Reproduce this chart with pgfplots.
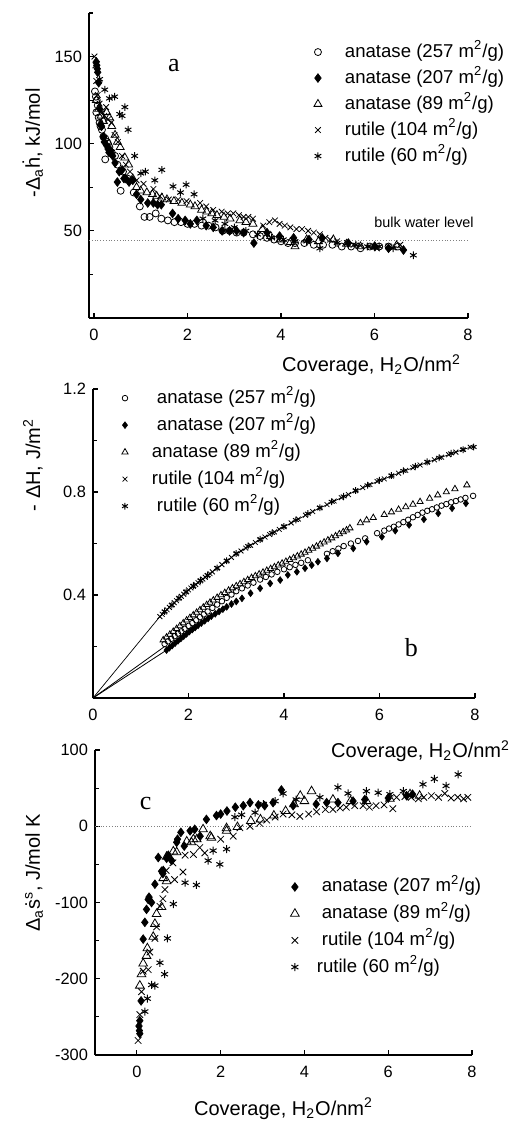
\documentclass[border=0pt]{standalone}
\usepackage{fontspec}
\setmainfont{Liberation Sans}
\newfontfamily\serif{Liberation Serif}
\usepackage{pgfplots}
\pgfplotsset{compat=1.18}

\pgfplotsset{
  panel/.style={
    scale only axis, axis lines*=left, clip=false,
    tick align=inside, major tick length=2.5pt, minor tick length=1.8pt,
    tick style={black, line width=0.6pt},
    axis line style={black, line width=0.6pt},
    /pgf/number format/assume math mode=true,
    xticklabel={\pgfmathprintnumber{\tick}},
    yticklabel={\pgfmathprintnumber{\tick}},
    tick label style={font=\fontsize{8.2}{10}\selectfont},
    xticklabel style={yshift=-2pt},
    label style={font=\fontsize{11.7}{14}\selectfont},
    legend cell align=left,
    legend style={draw=none, fill=none, inner sep=0pt, outer sep=0pt,
      font=\fontsize{9.3}{11}\selectfont,
      nodes={text height=7pt, text depth=2pt, inner ysep=1pt, inner xsep=1pt}},
  },
  legimg/.style 2 args={legend image code/.code={\path[draw=none,fill=none] (0pt,-2pt) rectangle (#2,2pt); \draw[##1] plot coordinates {(#1,0pt)};}},
  sCirc/.style={only marks, mark=o, mark options={line width=0.4pt}},
  sDiam/.style={only marks, mark=diamond*, mark options={line width=0.3pt, fill=black}},
  sTri/.style={only marks, mark=triangle, mark options={line width=0.4pt}},
  sX/.style={only marks, mark=x, mark options={line width=0.4pt}},
  sAst/.style={only marks, mark=asterisk, mark options={line width=0.5pt}},
}

\begin{document}
\begin{tikzpicture}
\useasboundingbox (0,0) rectangle (259.5pt,-561.5pt);

% ---- panel a
\begin{axis}[panel, at={(44.5pt,-159pt)}, anchor=south west,
  width=189.5pt, height=152.5pt,
  xmin=-0.107, xmax=8, ymin=0, ymax=175,
  xtick={0,2,4,6,8}, ytick={50,100,150}, minor ytick={25,75,125,175},
  xlabel={Coverage, H\textsubscript{2}O/nm\textsuperscript{2}},
  ylabel={-Δ\textsubscript{a}\.{h}, kJ/mol},
  every axis x label/.style={at={(axis description cs:1,-0.177)}, anchor=base east},
  every axis y label/.style={at={(axis description cs:-0.1293,0.574)}, rotate=90, anchor=base},
  legend style={at={(0.583,0.908)}, anchor=north west, row sep=2pt},
  legimg={4pt}{16.5pt},
]
\addplot[sCirc, mark size=1.75pt] coordinates {
(0.02,130)(0.04,127)(0.06,125)(0.08,122)(0.05,118)(0.10,115)(0.12,112)(0.14,110)
(0.17,108)(0.20,104)(0.24,103)(0.28,101)(0.30,100)(0.33,98)(0.24,91)(0.38,95)
(0.45,93)(0.50,88)(0.57,73)(0.62,84)(0.72,80)(0.85,72)(0.98,64)(1.08,58)(1.19,58)
(1.32,60)(1.44,57)(1.58,56)(1.72,55)(1.86,55)(2.00,54)(2.15,54)(2.30,53)(2.45,53)
(2.60,52)(2.75,50)(2.90,50)(3.05,49)(3.20,49)(3.40,48)(3.55,47)(3.70,46)(3.85,45)
(4.00,44)(4.15,43)(4.30,43)(4.50,43)(4.70,42)(4.90,42)(5.10,42)(5.30,41)(5.50,41)
(5.70,40)(5.90,41)(6.10,41)(6.30,41)(6.50,41)};
\addlegendentry{anatase (257 m\textsuperscript{2}/g)}
\addplot[sDiam, mark size=2.2pt] coordinates {
(0.05,147)(0.06,145)(0.07,143)(0.08,141)(0.10,135)(0.12,120)(0.14,111)(0.16,110)
(0.20,104)(0.22,101)(0.27,99)(0.30,97)(0.32,95)(0.36,96)(0.40,93)(0.45,89)(0.50,78)
(0.54,84)(0.60,85)(0.64,80)(0.68,80)(0.75,78)(0.83,79)(0.91,71)(1.00,68)(1.15,66)
(1.27,66)(1.36,65)(1.44,65)(1.68,60)(1.80,57)(1.95,56)(2.06,54)(2.20,56)(2.40,53)
(2.55,52)(2.74,50)(2.90,50)(3.05,50)(3.20,49)(3.42,43)(3.70,49)(3.97,47)(4.27,46)
(4.60,45)(4.88,46)(5.44,43)(6.01,41)(6.30,40)(6.62,39)};
\addlegendentry{anatase (207 m\textsuperscript{2}/g)}
\addplot[sTri, mark size=2.3pt] coordinates {
(0.05,125)(0.10,120)(0.15,116)(0.20,113)(0.27,118)(0.33,115)(0.38,110)(0.45,105)
(0.50,101)(0.56,98)(0.66,92)(0.74,88)(0.83,80)(0.91,75)(1.00,73)(1.13,72)(1.25,71)
(1.34,70)(1.45,69)(1.56,68)(1.71,67)(1.88,66)(2.06,65)(2.16,64)(2.30,62)(2.41,61)
(2.52,60)(2.63,59)(2.78,58)(2.91,57)(3.12,56)(3.25,55)(3.40,54)(3.60,51)(3.78,47)
(3.98,45)(4.20,43.5)(4.30,41)(4.55,45)(4.80,44)(5.12,45)(5.40,42.5)(5.70,41)
(6.00,41)(6.47,41.6)};
\addlegendentry{anatase (89 m\textsuperscript{2}/g)}
\addplot[sX, mark size=2pt] coordinates {
(0.01,150)(0.03,145)(0.05,136)(0.08,128)(0.12,123)(0.18,118)(0.22,116)(0.26,121)
(0.30,114)(0.37,112)(0.44,105)(0.51,101)(0.60,93)(0.68,88)(0.77,84)(0.91,79)
(1.06,77)(1.27,74)(1.41,70)(1.60,68)(1.80,68)(1.98,67)(2.27,66)(2.40,64)(2.55,62)
(2.73,61)(2.86,60)(2.98,60)(3.10,59)(3.20,58)(3.30,58)(3.40,57)(3.62,53)(3.75,55)
(3.87,56)(3.97,54)(4.08,53)(4.20,52)(4.33,51)(4.45,51)(4.58,50)(4.70,49)(4.83,48)
(4.95,46)(5.05,45)(5.20,44)(5.41,43)(5.55,42)(5.70,41.5)(5.90,41)(6.05,40)
(6.30,41)(6.55,42)};
\addlegendentry{rutile (104 m\textsuperscript{2}/g)}
\addplot[sAst, mark size=1.9pt] coordinates {
(0.12,137)(0.23,131)(0.33,126)(0.44,127)(0.55,117)(0.66,121)(0.60,116)(0.73,108)
(0.87,93)(1.00,83)(1.10,84)(1.30,79)(1.45,85)(1.69,75.5)(1.85,72)(1.97,76.5)
(2.14,71)(2.33,57)(2.59,56)(2.80,54)(3.00,52)(3.25,50)(3.50,48)(3.80,46)(4.05,45)
(4.30,44)(4.55,44)(4.83,40)(5.20,43)(5.60,42)(5.85,41)(6.10,41)(6.40,40)(6.83,36)};
\addlegendentry{rutile (60 m\textsuperscript{2}/g)}
\addplot[forget plot, densely dotted, line width=0.4pt, gray] coordinates {(-0.107,44.3)(8,44.3)};
\node[font=\fontsize{7.2}{9}\selectfont, anchor=base] at (axis cs:7.06,51.7) {bulk water level};
\node[font=\serif\fontsize{13}{15}\selectfont, anchor=base] at (axis cs:1.71,141.4) {a};
\end{axis}

% ---- panel b
\begin{axis}[panel, at={(46.5pt,-349pt)}, anchor=south west,
  width=191pt, height=154.5pt,
  xmin=0, xmax=8, ymin=0, ymax=1.2,
  xtick={0,2,4,6,8}, ytick={0.4,0.8,1.2}, minor ytick={0.2,0.6,1.0},
  yticklabel style={/pgf/number format/fixed, /pgf/number format/precision=1,
    /pgf/number format/fixed zerofill},
  xlabel={Coverage, H\textsubscript{2}O/nm\textsuperscript{2}},
  ylabel={- ΔH, J/m\textsuperscript{2}},
  every axis x label/.style={at={(axis description cs:1.11,-0.194)}, anchor=base east},
  every axis y label/.style={at={(axis description cs:-0.1387,0.754)}, rotate=90, anchor=base},
  legend style={at={(0.0628,1.006)}, anchor=north west, row sep=2.5pt},
  legimg={4pt}{16.5pt},
]
\addplot[forget plot, line width=0.4pt] coordinates {(0,0)(1.50,0.200)};
\addplot[forget plot, line width=0.4pt] coordinates {(0,0)(1.54,0.186)};
\addplot[forget plot, line width=0.35pt] coordinates {
(0,0)(1.40,0.316)(1.70,0.370)(2.00,0.420)(2.50,0.490)(3.00,0.560)(3.50,0.615)
(4.00,0.665)(4.60,0.724)(5.20,0.778)(5.80,0.829)(6.40,0.873)(7.00,0.915)(7.60,0.955)(7.90,0.974)};
\addplot[sCirc, mark size=1.4pt] coordinates {
(1.50,0.210)(1.57,0.220)(1.64,0.230)(1.71,0.240)(1.78,0.250)(1.85,0.259)(1.92,0.269)
(2.00,0.280)(2.08,0.291)(2.16,0.302)(2.24,0.314)(2.32,0.325)(2.40,0.336)(2.50,0.350)
(2.60,0.363)(2.70,0.376)(2.80,0.389)(2.90,0.402)(3.00,0.415)(3.12,0.426)(3.24,0.437)
(3.36,0.448)(3.50,0.460)(3.62,0.470)(3.74,0.480)(3.86,0.490)(4.00,0.500)(4.12,0.508)
(4.24,0.517)(4.36,0.525)(4.50,0.535)(4.90,0.560)(5.02,0.570)(5.14,0.580)(5.25,0.590)
(5.40,0.600)(5.55,0.610)(5.70,0.620)(5.95,0.640)(6.10,0.650)(6.20,0.658)(6.30,0.665)
(6.40,0.674)(6.50,0.683)(6.60,0.692)(6.70,0.702)(6.80,0.711)(6.90,0.720)(7.00,0.727)
(7.10,0.733)(7.20,0.740)(7.30,0.747)(7.40,0.753)(7.50,0.760)(7.60,0.765)(7.70,0.771)
(7.80,0.777)(7.96,0.785)};
\addlegendentry{\hspace{2.5pt}anatase (257 m\textsuperscript{2}/g)}
\addplot[sDiam, mark size=1.7pt] coordinates {
(1.54,0.186)(1.60,0.195)(1.66,0.204)(1.72,0.213)(1.78,0.222)(1.84,0.231)(1.90,0.240)
(1.96,0.249)(2.02,0.258)(2.08,0.266)(2.14,0.274)(2.20,0.282)(2.27,0.291)(2.34,0.300)
(2.41,0.309)(2.48,0.318)(2.56,0.327)(2.64,0.336)(2.72,0.345)(2.80,0.354)(2.90,0.365)
(3.00,0.375)(3.12,0.387)(3.30,0.407)(3.50,0.426)(3.71,0.445)(3.92,0.458)(4.08,0.478)
(4.27,0.490)(4.44,0.504)(4.58,0.516)(4.71,0.529)(4.90,0.542)(5.13,0.562)(5.45,0.581)
(5.73,0.607)(6.05,0.626)(6.33,0.650)(6.62,0.672)(6.93,0.694)(7.23,0.717)(7.52,0.737)
(7.81,0.756)};
\addlegendentry{\hspace{2.5pt}anatase (207 m\textsuperscript{2}/g)}
\addplot[sTri, mark size=1.8pt] coordinates {
(1.47,0.225)(1.54,0.236)(1.61,0.247)(1.68,0.258)(1.75,0.269)(1.82,0.280)(1.89,0.291)
(1.96,0.302)(2.03,0.312)(2.10,0.322)(2.17,0.332)(2.24,0.342)(2.31,0.352)(2.38,0.362)
(2.45,0.371)(2.52,0.380)(2.60,0.390)(2.68,0.400)(2.76,0.409)(2.84,0.418)(2.92,0.427)
(3.00,0.435)(3.08,0.443)(3.16,0.451)(3.24,0.459)(3.32,0.467)(3.40,0.474)(3.48,0.481)
(3.56,0.488)(3.64,0.495)(3.72,0.502)(3.80,0.509)(3.88,0.516)(3.96,0.523)(4.04,0.530)
(4.12,0.537)(4.20,0.544)(4.28,0.551)(4.36,0.558)(4.44,0.565)(4.52,0.573)(4.60,0.581)
(4.68,0.589)(4.76,0.597)(4.84,0.605)(4.92,0.613)(5.00,0.621)(5.08,0.629)(5.16,0.637)
(5.24,0.645)(5.31,0.652)(5.38,0.660)(5.60,0.680)(5.73,0.691)(5.87,0.700)(6.10,0.712)
(6.25,0.722)(6.40,0.732)(6.55,0.742)(6.70,0.752)(6.85,0.762)(7.05,0.775)(7.22,0.788)
(7.40,0.800)(7.58,0.812)(7.83,0.827)};
\addlegendentry{anatase (89 m\textsuperscript{2}/g)}
\addplot[sX, mark size=1.7pt] coordinates {
(1.40,0.316)(1.45,0.325)(1.50,0.334)(1.55,0.343)(1.60,0.352)(1.65,0.361)(1.70,0.370)
(1.75,0.378)(1.80,0.387)(1.85,0.395)(1.90,0.403)(1.95,0.412)(2.00,0.420)(2.05,0.427)
(2.10,0.434)(2.15,0.441)(2.20,0.448)(2.25,0.455)(2.30,0.462)(2.35,0.469)(2.40,0.476)
(2.45,0.483)(2.50,0.490)(2.60,0.504)(2.70,0.518)(2.80,0.532)(2.90,0.546)(3.00,0.560)
(3.10,0.571)(3.20,0.582)(3.30,0.593)(3.40,0.604)(3.50,0.615)(3.60,0.625)(3.70,0.635)
(3.80,0.645)(3.90,0.655)(4.00,0.665)(4.15,0.680)(4.30,0.695)(4.45,0.710)(4.60,0.724)
(4.75,0.738)(4.90,0.751)(5.05,0.765)(5.20,0.778)(5.35,0.790)(5.50,0.805)(5.65,0.817)
(5.80,0.829)(5.95,0.841)(6.10,0.851)(6.25,0.862)(6.40,0.873)(6.55,0.884)(6.70,0.894)
(6.85,0.905)(7.00,0.915)(7.15,0.925)(7.30,0.935)(7.45,0.945)(7.60,0.955)(7.75,0.965)
(7.90,0.974)};
\addlegendentry{rutile (104 m\textsuperscript{2}/g)}
\addplot[sAst, mark size=1.7pt] coordinates {
(1.50,0.336)(1.65,0.361)(1.80,0.388)(1.95,0.412)(2.10,0.435)(2.25,0.456)(2.40,0.477)
(2.60,0.505)(2.80,0.533)(3.00,0.561)(3.25,0.590)(3.50,0.616)(3.75,0.641)(4.00,0.666)
(4.25,0.691)(4.50,0.716)(4.75,0.739)(5.00,0.762)(5.25,0.783)(5.50,0.806)(5.75,0.826)
(6.00,0.846)(6.25,0.864)(6.50,0.882)(6.75,0.900)(7.00,0.917)(7.25,0.933)(7.50,0.950)
(7.75,0.964)(7.97,0.975)};
\addlegendentry{\hspace{2.5pt}rutile (60 m\textsuperscript{2}/g)}
\node[font=\serif\fontsize{13}{15}\selectfont, anchor=base] at (axis cs:6.67,0.16) {b};
\end{axis}

% ---- panel c
\begin{axis}[panel, at={(47.5pt,-527.5pt)}, anchor=south west,
  width=188.5pt, height=152.5pt,
  xmin=-1, xmax=8, ymin=-300, ymax=100,
  xtick={0,2,4,6,8}, ytick={-300,-200,-100,0,100}, minor ytick={-250,-150,-50,50},
  xlabel={Coverage, H\textsubscript{2}O/nm\textsuperscript{2}},
  ylabel={Δ\textsubscript{a}\.{s}\textsuperscript{s}, J/mol K},
  every axis x label/.style={at={(axis description cs:0.5,-0.197)}, anchor=base},
  every axis y label/.style={at={(axis description cs:-0.1459,0.597)}, rotate=90, anchor=base},
  legend style={at={(0.509,0.587)}, anchor=north west, row sep=2.35pt},
  legimg={4pt}{14pt},
]
\addplot[forget plot, densely dotted, line width=0.4pt, gray] coordinates {(-1,0)(8,0)};
\addplot[sDiam, mark size=2.2pt] coordinates {
(0.05,-262)(0.06,-268)(0.07,-272)(0.07,-255)(0.10,-229)(0.15,-148)(0.19,-126)
(0.23,-109)(0.27,-96)(0.29,-93)(0.35,-100)(0.43,-76)(0.51,-41)(0.59,-59)(0.62,-62)
(0.63,-58)(0.71,-42)(0.75,-38)(0.83,-45)(0.95,-21)(0.97,-17)(1.05,-8)(1.13,-26)
(1.27,-6)(1.38,-4)(1.51,-13)(1.66,9)(1.90,14)(2.00,16)(2.15,20)(2.35,25)(2.54,27)
(2.70,31)(2.90,28)(3.05,27)(3.25,31)(3.45,47.6)(3.73,27)(4.28,29)(4.53,31)(4.80,31)
(5.16,33)(5.44,35)(6.00,37)(6.44,40)(6.58,42)};
\addlegendentry{\hspace{2.5pt}anatase (207 m\textsuperscript{2}/g)}
\addplot[sTri, mark size=2.5pt] coordinates {
(0.07,-209)(0.11,-194)(0.15,-180)(0.23,-170)(0.25,-160)(0.39,-145)(0.43,-128)
(0.47,-115)(0.59,-106)(0.63,-68)(0.71,-72)(0.71,-40)(0.87,-33)(0.95,-34)(1.19,-20)
(1.30,-21)(1.35,-17)(1.43,-17)(1.58,-4)(1.75,-13)(1.78,-15)(2.14,-6)(2.14,-2.5)
(2.40,-1)(2.72,7)(2.95,9)(3.27,14)(3.55,20)(3.75,29)(3.90,40)(4.00,33)(4.17,46)
(4.68,35)(5.10,33)(5.48,33)(6.04,36)(6.52,42)(6.75,40)};
\addlegendentry{\hspace{2.5pt}anatase (89 m\textsuperscript{2}/g)}
\addplot[sX, mark size=2.3pt] coordinates {
(0.03,-281)(0.07,-247)(0.11,-217)(0.15,-190)(0.27,-188)(0.31,-165)(0.43,-147)
(0.47,-132)(0.55,-105)(0.62,-95)(0.67,-83)(0.70,-58)(0.86,-48)(0.90,-70)(1.10,-60)
(1.15,-38)(1.35,-37)(1.50,-28)(1.62,-35)(2.00,-17)(2.30,-13)(2.46,-2)(2.70,0)
(2.93,4)(3.10,8)(3.30,12)(3.49,16)(3.70,15)(3.89,13)(4.10,16)(4.29,19)(4.50,22)
(4.68,22)(4.85,24)(5.00,25)(5.20,27)(5.40,27)(5.55,25)(5.71,27)(5.90,28)(6.11,23)
(6.20,38)(6.40,39)(6.55,38)(6.72,36)(6.85,38)(7.03,40)(7.20,38)(7.35,43)(7.50,37)
(7.66,38)(7.80,36)(7.90,38)};
\addlegendentry{\hspace{2.5pt}rutile (104 m\textsuperscript{2}/g)}
\addplot[sAst, mark size=2pt] coordinates {
(0.19,-243)(0.25,-226)(0.35,-208)(0.43,-209)(0.55,-179)(0.66,-194)(0.73,-147)
(0.87,-102)(1.15,-74)(1.42,-77)(1.70,-45)(1.82,-32)(1.98,-50)(2.14,-30)(2.34,12)
(2.50,15)(2.82,18)(3.02,29)(3.30,33)(3.49,43)(3.80,35)(4.37,38)(4.80,51)(5.04,43)
(5.48,46)(5.76,44)(6.04,42)(6.36,46)(6.83,55)(7.10,62)(7.38,53)(7.67,68)};
\addlegendentry{rutile (60 m\textsuperscript{2}/g)}
\node[font=\serif\fontsize{13}{15}\selectfont, anchor=base] at (axis cs:0.21,22.3) {c};
\end{axis}
\end{tikzpicture}
\end{document}
